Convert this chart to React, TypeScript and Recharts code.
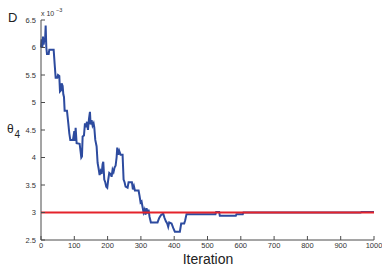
import { LineChart, Line, XAxis, YAxis } from "recharts";

// MCMC trace of theta_4 (values in units of 1e-3) against iteration,
// with the true value drawn as a flat red reference line.
const BLUE = "#2d4b9f";
const RED = "#e4232b";
const AXIS = "#4a4a4a";
const FONT = "'Liberation Sans', Arial, sans-serif";

const iterations = [
  0, 2, 4, 6, 8, 10, 12, 14, 16, 18, 23, 25, 38, 41, 44, 49, 51, 55, 57, 60,
  62, 65, 67, 69, 71, 78, 82, 85, 88, 96, 100, 102, 104, 107, 116, 119, 121, 123, 125, 129,
  132, 135, 138, 141, 144, 147, 149, 152, 155, 158, 160, 163, 167, 170, 173, 176, 179, 182, 185, 187,
  190, 193, 196, 199, 202, 205, 209, 212, 215, 218, 221, 224, 227, 229, 232, 235, 239, 245, 248, 251,
  254, 260, 263, 273, 276, 279, 282, 293, 296, 299, 302, 305, 308, 311, 314, 317, 320, 323, 326, 330,
  350, 355, 360, 367, 371, 375, 379, 382, 385, 392, 397, 402, 417, 421, 430, 433, 437, 524, 526, 535,
  537, 585, 587, 606, 608, 960, 962, 1000,
];
const theta4 = [
  6.0, 6.15, 6.0, 6.2, 6.05, 6.15, 6.1, 6.4, 6.0, 5.88, 5.88, 5.96, 5.96, 5.7, 5.45, 5.45, 5.5, 5.48, 5.2, 5.22,
  5.35, 5.3, 5.15, 5.1, 4.85, 4.85, 4.62, 4.44, 4.32, 4.32, 4.48, 4.3, 4.54, 4.26, 4.25, 4.1, 4.0, 4.02, 4.38, 4.4,
  4.62, 4.55, 4.65, 4.5, 4.7, 4.83, 4.6, 4.68, 4.58, 4.62, 4.55, 4.32, 4.2, 3.9, 3.8, 3.68, 3.75, 3.7, 3.88, 3.92,
  3.6, 3.55, 3.47, 3.45, 3.6, 3.72, 3.7, 3.65, 3.78, 3.74, 3.82, 3.85, 4.0, 4.18, 4.05, 4.12, 4.05, 4.05, 3.6, 3.55,
  3.47, 3.45, 3.55, 3.55, 3.42, 3.48, 3.4, 3.4, 3.3, 3.18, 3.2, 3.1, 3.0, 3.05, 2.96, 3.08, 2.98, 3.05, 2.92, 2.82,
  2.82, 2.9, 2.95, 2.98, 2.9, 2.84, 2.8, 2.74, 2.82, 2.8, 2.72, 2.65, 2.65, 2.8, 2.8, 2.86, 2.97, 2.97, 3.01, 3.01,
  2.94, 2.94, 2.97, 2.97, 3.0, 3.0, 3.01, 3.01,
];
const truthIter = [0, 1000];
const truthValue = [3, 3];

const xTicks = [0, 100, 200, 300, 400, 500, 600, 700, 800, 900, 1000];
const yTicks = [2.5, 3, 3.5, 4, 4.5, 5, 5.5, 6, 6.5];

const trace = iterations.map((it, i) => ({ it, v: theta4[i] }));
const truth = truthIter.map((it, i) => ({ it, v: truthValue[i] }));

export default function App() {
  return (
    <div style={{ position: "absolute", left: 0, top: 0, width: 382, height: 267, background: "#fff" }}>
      <LineChart width={382} height={267} margin={{ top: 20, right: 8, bottom: 0, left: 0 }}>
        <XAxis
          dataKey="it"
          type="number"
          domain={[0, 1000]}
          ticks={xTicks}
          interval={0}
          height={27}
          tickSize={-4}
          tickMargin={7}
          axisLine={{ stroke: AXIS }}
          tickLine={{ stroke: AXIS }}
          tick={{ fontSize: 7.5, fill: "#333", fontFamily: FONT }}
        />
        <YAxis
          dataKey="v"
          type="number"
          domain={[2.5, 6.5]}
          ticks={yTicks}
          interval={0}
          width={41}
          tickSize={-4}
          tickMargin={9}
          axisLine={{ stroke: AXIS }}
          tickLine={{ stroke: AXIS }}
          tick={{ fontSize: 7.5, fill: "#333", fontFamily: FONT }}
        />
        <Line
          data={trace}
          dataKey="v"
          type="linear"
          stroke={BLUE}
          strokeWidth={2}
          dot={false}
          isAnimationActive={false}
        />
        <Line
          data={truth}
          dataKey="v"
          type="linear"
          stroke={RED}
          strokeWidth={2}
          dot={false}
          isAnimationActive={false}
        />
      </LineChart>
      <svg
        width={382}
        height={267}
        style={{ position: "absolute", left: 0, top: 0, pointerEvents: "none" }}
        fontFamily={FONT}
      >
        <text x={8} y={22} fontSize={13} fill="#222">D</text>
        <text x={7} y={133} fontSize={12} fill="#222">θ</text>
        <text x={14.5} y={138} fontSize={10} fill="#222">4</text>
        <text x={41} y={16} fontSize={7} fill="#333">x 10</text>
        <text x={56} y={12} fontSize={5.5} fill="#333">−3</text>
        <text x={208} y={264} fontSize={14} fill="#222" textAnchor="middle">Iteration</text>
      </svg>
    </div>
  );
}
